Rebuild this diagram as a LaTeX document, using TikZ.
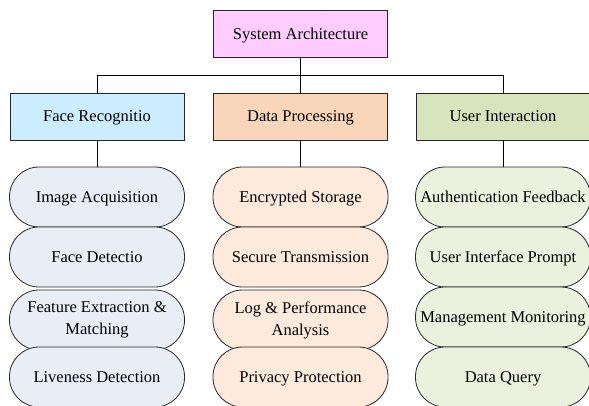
\documentclass[tikz,border=0pt]{standalone}
\usepackage{fontspec}
\setmainfont{Liberation Serif}
\definecolor{topc}{HTML}{FFCCFF}
\definecolor{facec}{HTML}{CCECFF}
\definecolor{datac}{HTML}{F9D6B9}
\definecolor{userc}{HTML}{D8E4BD}
\definecolor{facep}{HTML}{E9EEF6}
\definecolor{datap}{HTML}{FDEADC}
\definecolor{userp}{HTML}{EBF1DE}
\tikzset{
  hbox/.style={draw=black!85, line width=0.8pt, minimum width=174pt, minimum height=47pt, inner sep=0pt,
    text height=11pt, text depth=0pt, font=\fontsize{16.5}{22}\selectfont},
  pill/.style={draw=black!85, line width=0.8pt, rounded corners=29.5pt, minimum width=175pt, minimum height=60pt,
    inner sep=0pt, font=\fontsize{16.5}{22}\selectfont},
  oneline/.style={pill, text height=11pt, text depth=0pt},
  twoline/.style={pill, align=center, yshift=-3pt},
  conn/.style={draw=black, line width=0.8pt}
}
\begin{document}
\begin{tikzpicture}[x=1pt,y=-1pt]
\useasboundingbox (0,0) rectangle (589,406);
\clip (0,0) rectangle (589,406);
\node[hbox, fill=topc] (top) at (300.5,34) {System Architecture};
\node[hbox, fill=facec] (face) at (97,116.5) {Face Recognitio};
\node[hbox, fill=datac] (data) at (300.5,116.5) {Data Processing};
\node[hbox, fill=userc] (user) at (503,116.5) {User Interaction};

\coordinate (bus) at (300.5,75);
\draw[conn] (top.south) -- (bus);
\draw[conn] (bus) -| (face.north);
\draw[conn] (bus) -- (data.north);
\draw[conn] (bus) -| (user.north);

% Face column
\node[oneline, fill=facep] (f1) at (97,197) {Image Acquisition};
\node[oneline, fill=facep] (f2) at (97,257) {Face Detectio};
\node[twoline, fill=facep] (f3) at (97,317) {Feature Extraction \&\\Matching};
\node[oneline, fill=facep] (f4) at (97,377) {Liveness Detection};
% Data column
\node[oneline, fill=datap] (d1) at (300.5,197) {Encrypted Storage};
\node[oneline, fill=datap] (d2) at (300.5,257) {Secure Transmission};
\node[twoline, fill=datap] (d3) at (300.5,317) {Log \& Performance\\Analysis};
\node[oneline, fill=datap] (d4) at (300.5,377) {Privacy Protection};
% User column
\node[oneline, fill=userp] (u1) at (503,197) {Authentication Feedback};
\node[oneline, fill=userp] (u2) at (503,257) {User Interface Prompt};
\node[oneline, fill=userp] (u3) at (503,317) {Management Monitoring};
\node[oneline, fill=userp] (u4) at (503,377) {Data Query};

\draw[conn] (face.south) -- (f1.north);
\draw[conn] (data.south) -- (d1.north);
\draw[conn] (user.south) -- (u1.north);
\end{tikzpicture}
\end{document}
